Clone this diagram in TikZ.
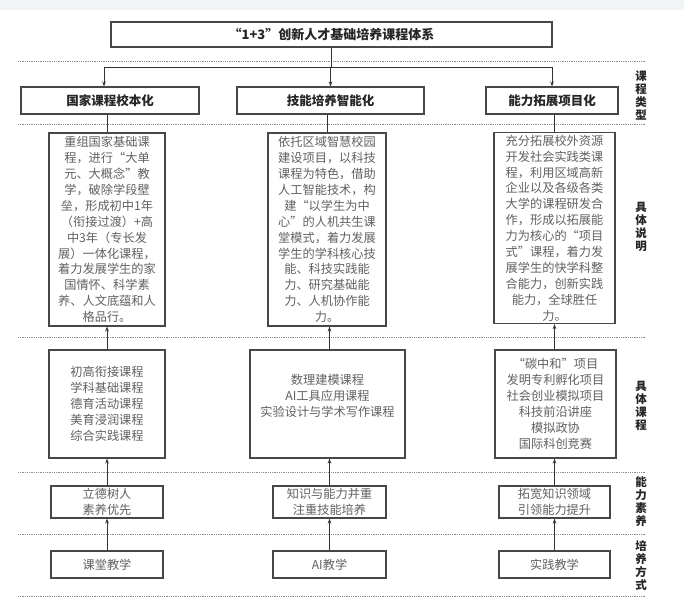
\documentclass[tikz,border=0pt]{standalone}
\usepackage{fontspec}
\newfontfamily\cjk{Noto Sans CJK SC}
\usetikzlibrary{arrows.meta,positioning}
\definecolor{bandgray}{RGB}{240,244,245}

\begin{document}
\begin{tikzpicture}[
  x=1pt, y=-1pt,
  box/.style={draw=black!72, line width=1.1pt, inner sep=0pt, align=center},
  head/.style={box, font=\cjk\bfseries\fontsize{12.5}{14}\selectfont,
    text=black!85},
  body/.style={box, font=\cjk\fontsize{12.2}{15.9}\selectfont,
    text=black!62},
  side/.style={font=\cjk\bfseries\fontsize{11.5}{13}\selectfont,
    text=black!85, align=center},
  sep/.style={black!45, line width=0.7pt, dash pattern=on 0.7pt off 1.1pt},
  link/.style={black!80, line width=0.8pt},
  down/.style={link, -{Stealth[length=5pt, width=3.6pt]}},
  up/.style={link, -{Stealth[length=5pt, width=3.6pt]}},
]
  \useasboundingbox (0,0) rectangle (684,604);
  \fill[white] (0,0) rectangle (684,604);
  \fill[bandgray] (0,0) rectangle (684,10);
  % Separators
  \foreach \yy in {61,124,337,472,534,596}
    \draw[sep] (18,\yy) -- (645,\yy);
  % Title
  \node[head, minimum width=441pt, minimum height=25pt,
    font=\cjk\bfseries\fontsize{13}{14}\selectfont] (title) at (331.5,34.5)
    {“1+3”创新人才基础培养课程体系};
  % Course types
  \node[head, minimum width=178pt, minimum height=27pt] (t1) at (110,100.5)
    {国家课程校本化};
  \node[head, minimum width=187pt, minimum height=27pt] (t2) at (330.5,100.5)
    {技能培养智能化};
  \node[head, minimum width=132pt, minimum height=27pt] (t3) at (552,100.5)
    {能力拓展项目化};
  % Descriptions
  \node[body, minimum width=116pt, minimum height=193pt] (d1) at (107,229.5)
    {重组国家基础课\\程，进行“大单\\元、大概念”教\\学，破除学段壁\\垒，形成初中1年\\
     （衔接过渡）+高\\中3年（专长发\\展）一体化课程，\\着力发展学生的家\\
     国情怀、科学素\\养、人文底蕴和人\\格品行。};
  \node[body, minimum width=118pt, minimum height=193pt] (d2) at (327,229.5)
    {依托区域智慧校园\\建设项目，以科技\\课程为特色，借助\\人工智能技术，构\\
     建“以学生为中\\心”的人机共生课\\堂模式，着力发展\\学生的学科核心技\\
     能、科技实践能\\力、研究基础能\\力、人机协作能\\力。};
  \node[body, minimum width=121pt, minimum height=191pt] (d3) at (554.5,228)
    {充分拓展校外资源\\开发社会实践类课\\程，利用区域高新\\企业以及各级各类\\
     大学的课程研发合\\作，形成以拓展能\\力为核心的“项目\\式”课程，着力发\\
     展学生的快学科整\\合能力，创新实践\\能力，全球胜任\\力。};
  % Concrete courses
  \node[body, minimum width=116pt, minimum height=108pt] (c1) at (107,404)
    {初高衔接课程\\学科基础课程\\德育活动课程\\美育浸润课程\\综合实践课程};
  \node[box, minimum width=155pt, minimum height=108pt] (c2) at (327.5,404) {};
  \node[body, draw=none, minimum size=0pt] (c2txt) at (327.5,396)
    {数理建模课程\\AI工具应用课程\\实验设计与学术写作课程};
  \node[body, minimum width=121pt, minimum height=108pt] (c3) at (555.5,404)
    {“碳中和”项目\\发明专利孵化项目\\社会创业模拟项目\\科技前沿讲座\\
     模拟政协\\国际科创竞赛};
  % Abilities
  \node[body, minimum width=112pt, minimum height=32pt] (a1) at (107,502)
    {立德树人\\素养优先};
  \node[body, minimum width=113pt, minimum height=32pt] (a2) at (329.5,502)
    {知识与能力并重\\注重技能培养};
  \node[body, minimum width=111pt, minimum height=32pt] (a3) at (554.5,502)
    {拓宽知识领域\\引领能力提升};
  % Teaching methods
  \node[body, minimum width=112pt, minimum height=27pt] (m1) at (107,564.5)
    {课堂教学};
  \node[body, minimum width=113pt, minimum height=27pt] (m2) at (329.5,564.5)
    {AI教学};
  \node[body, minimum width=111pt, minimum height=27pt] (m3) at (554.5,564.5)
    {实践教学};
  % Row labels
  \node[side] (lType) at (641,95) {课\\程\\类\\型};
  \node[side] (lDesc) at (641,227) {具\\体\\说\\明};
  \node[side] (lCourse) at (641,406) {具\\体\\课\\程};
  \node[side] (lAbil) at (641,502) {能\\力\\素\\养};
  \node[side] (lWay) at (641,566) {培\\养\\方\\式};
  % Title -> types
  \coordinate (split) at (331,67.7);
  \draw[link] (title.south -| split) -- (split);
  \draw[down] (split) -| ([xshift=-6pt]t1.north);
  \draw[down] (split) -- (split -| t2.north) -- (t2.north);
  \draw[down] (split) -| (t3.north);
  % Types -> descriptions
  \draw[link] (t1.south -| d1.north) -- (d1.north);
  \draw[link] (t2.south -| d2.north) -- (d2.north);
  \draw[link] (t3.south -| d3.north) -- (d3.north);
  % Bottom-up arrows
  \draw[up] (m1) -- (a1);
  \draw[up] (a1) -- (c1);
  \draw[up] (c1) -- (d1);
  \draw[up] (m2.north) -- (a2.south);
  \draw[up] (a2.north) -- (c2.south -| a2.north);
  \draw[up] (c2.north -| a2.north) -- (d2.south -| a2.north);
  \draw[up] (m3.north) -- (a3.south);
  \draw[up] (a3.north) -- (c3.south -| a3.north);
  \draw[up] (c3.north -| a3.north) -- (d3.south -| a3.north);
\end{tikzpicture}
\end{document}
